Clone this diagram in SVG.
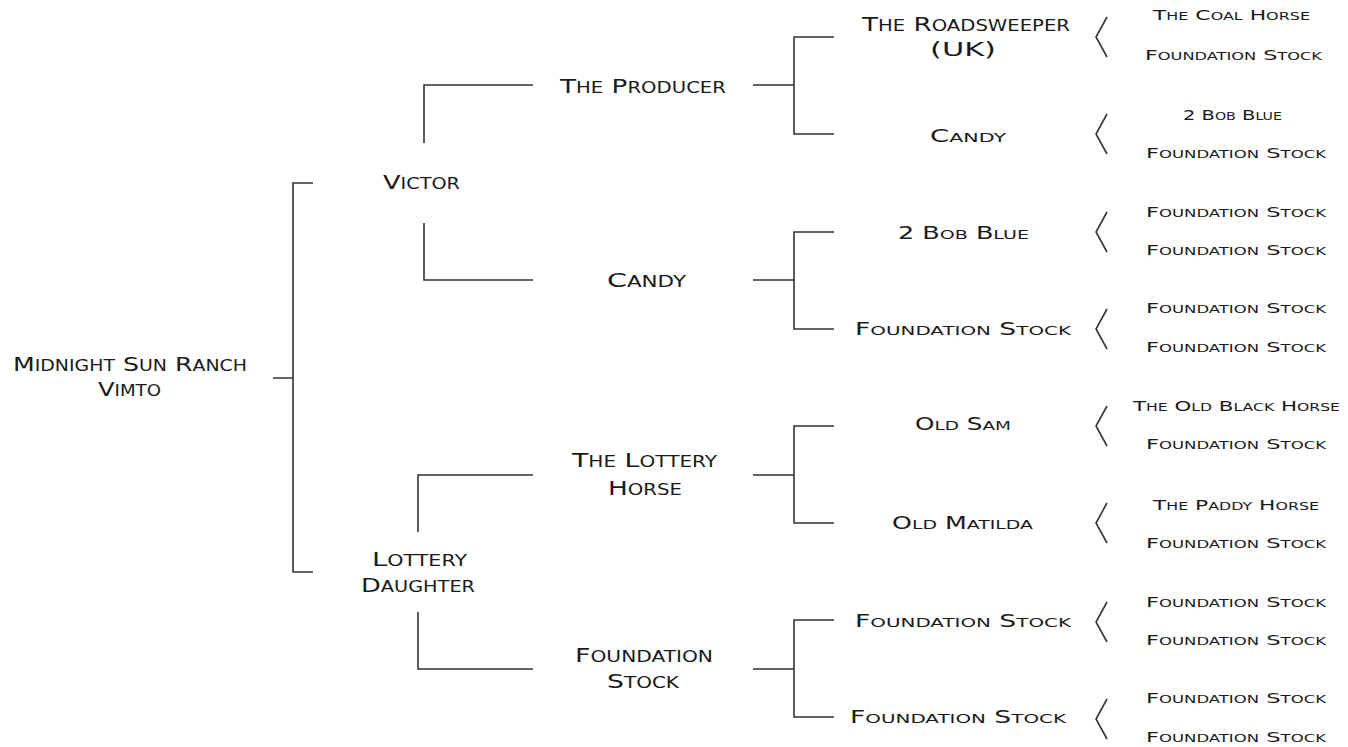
<svg xmlns="http://www.w3.org/2000/svg" width="1348" height="747" viewBox="0 0 1348 747">
<style>
text{font-family:"DejaVu Sans","Liberation Sans",sans-serif;font-variant:small-caps;fill:#1a1a1a;text-anchor:middle}
.s{font-size:1.06em}
.a{font-size:20px}
.c{font-size:17.4px}
.b{font-size:13.7px}
.ln{fill:none;stroke:#333;stroke-width:1.6}
</style>
<rect width="1348" height="747" fill="#fff"/>
<g id="connectors" class="ln">
<path d="M273 378H293M313 183H293V572H313"/>
<path d="M424 143V85H533M424 223V280H533"/>
<path d="M418 532V475H533M418 612V669H533"/>
<path d="M753 85H794M834 37H794V134H834"/>
<path d="M753 280H794M834 232H794V329H834"/>
<path d="M753 475H794M834 426H794V523H834"/>
<path d="M753 669H794M834 620H794V717H834"/>
<path d="M1107 17L1096 37L1107 57"/>
<path d="M1107 114L1096 134L1107 154"/>
<path d="M1107 212L1096 232L1107 252"/>
<path d="M1107 309L1096 329L1107 349"/>
<path d="M1107 406L1096 426L1107 446"/>
<path d="M1107 503L1096 523L1107 543"/>
<path d="M1107 602L1096 622L1107 642"/>
<path d="M1107 699L1096 719L1107 739"/>
</g>
<g id="n-vimto" class="a">
<text x="130" y="370.5" textLength="234" lengthAdjust="spacingAndGlyphs">M<tspan class="s">idnight</tspan> S<tspan class="s">un</tspan> R<tspan class="s">anch</tspan></text>
<text x="129.5" y="396" textLength="63" lengthAdjust="spacingAndGlyphs">V<tspan class="s">imto</tspan></text>
</g>
<g id="n-victor" class="a"><text x="421.5" y="189" textLength="77" lengthAdjust="spacingAndGlyphs">V<tspan class="s">ictor</tspan></text></g>
<g id="n-lottery-daughter" class="a">
<text x="419.5" y="565.5" textLength="95" lengthAdjust="spacingAndGlyphs">L<tspan class="s">ottery</tspan></text>
<text x="418" y="592" textLength="114" lengthAdjust="spacingAndGlyphs">D<tspan class="s">aughter</tspan></text>
</g>
<g id="n-producer" class="a"><text x="643" y="92.5" textLength="166" lengthAdjust="spacingAndGlyphs">T<tspan class="s">he</tspan> P<tspan class="s">roducer</tspan></text></g>
<g id="n-candy2" class="a"><text x="646.5" y="287" textLength="79" lengthAdjust="spacingAndGlyphs">C<tspan class="s">andy</tspan></text></g>
<g id="n-lottery-horse" class="a">
<text x="644.5" y="467" textLength="145" lengthAdjust="spacingAndGlyphs">T<tspan class="s">he</tspan> L<tspan class="s">ottery</tspan></text>
<text x="645" y="495" textLength="74" lengthAdjust="spacingAndGlyphs">H<tspan class="s">orse</tspan></text>
</g>
<g id="n-fs2" class="a">
<text x="644" y="661.5" textLength="138" lengthAdjust="spacingAndGlyphs">F<tspan class="s">oundation</tspan></text>
<text x="643" y="688" textLength="72" lengthAdjust="spacingAndGlyphs">S<tspan class="s">tock</tspan></text>
</g>
<g id="n-roadsweeper">
<text class="a" x="966" y="31" textLength="208" lengthAdjust="spacingAndGlyphs">T<tspan class="s">he</tspan> R<tspan class="s">oadsweeper</tspan></text>
<text class="a" x="963" y="56" textLength="66" lengthAdjust="spacingAndGlyphs">(UK)</text>
</g>
<g id="n-candy3" class="c"><text x="968" y="142" textLength="76" lengthAdjust="spacingAndGlyphs">C<tspan class="s">andy</tspan></text></g>
<g id="n-2bob3" class="c"><text x="963.5" y="239" textLength="131" lengthAdjust="spacingAndGlyphs">2 B<tspan class="s">ob</tspan> B<tspan class="s">lue</tspan></text></g>
<g id="n-fs3a" class="c"><text x="963" y="335" textLength="216" lengthAdjust="spacingAndGlyphs">F<tspan class="s">oundation</tspan> S<tspan class="s">tock</tspan></text></g>
<g id="n-oldsam" class="c"><text x="963" y="430" textLength="96" lengthAdjust="spacingAndGlyphs">O<tspan class="s">ld</tspan> S<tspan class="s">am</tspan></text></g>
<g id="n-oldmatilda" class="c"><text x="962.5" y="529" textLength="141" lengthAdjust="spacingAndGlyphs">O<tspan class="s">ld</tspan> M<tspan class="s">atilda</tspan></text></g>
<g id="n-fs3b" class="c"><text x="963" y="627" textLength="216" lengthAdjust="spacingAndGlyphs">F<tspan class="s">oundation</tspan> S<tspan class="s">tock</tspan></text></g>
<g id="n-fs3c" class="c"><text x="958" y="723" textLength="216" lengthAdjust="spacingAndGlyphs">F<tspan class="s">oundation</tspan> S<tspan class="s">tock</tspan></text></g>
<g id="gen4" class="b">
<text x="1231.5" y="20" textLength="157" lengthAdjust="spacingAndGlyphs">T<tspan class="s">he</tspan> C<tspan class="s">oal</tspan> H<tspan class="s">orse</tspan></text>
<text x="1233.5" y="60" textLength="177" lengthAdjust="spacingAndGlyphs">F<tspan class="s">oundation</tspan> S<tspan class="s">tock</tspan></text>
<text x="1232.5" y="120" textLength="99" lengthAdjust="spacingAndGlyphs">2 B<tspan class="s">ob</tspan> B<tspan class="s">lue</tspan></text>
<text x="1236" y="158" textLength="180" lengthAdjust="spacingAndGlyphs">F<tspan class="s">oundation</tspan> S<tspan class="s">tock</tspan></text>
<text x="1236" y="216.5" textLength="180" lengthAdjust="spacingAndGlyphs">F<tspan class="s">oundation</tspan> S<tspan class="s">tock</tspan></text>
<text x="1236" y="255" textLength="180" lengthAdjust="spacingAndGlyphs">F<tspan class="s">oundation</tspan> S<tspan class="s">tock</tspan></text>
<text x="1236" y="313" textLength="180" lengthAdjust="spacingAndGlyphs">F<tspan class="s">oundation</tspan> S<tspan class="s">tock</tspan></text>
<text x="1236" y="351.5" textLength="180" lengthAdjust="spacingAndGlyphs">F<tspan class="s">oundation</tspan> S<tspan class="s">tock</tspan></text>
<text x="1236.5" y="410.5" textLength="207" lengthAdjust="spacingAndGlyphs">T<tspan class="s">he</tspan> O<tspan class="s">ld</tspan> B<tspan class="s">lack</tspan> H<tspan class="s">orse</tspan></text>
<text x="1236" y="448.5" textLength="180" lengthAdjust="spacingAndGlyphs">F<tspan class="s">oundation</tspan> S<tspan class="s">tock</tspan></text>
<text x="1236" y="509.5" textLength="166" lengthAdjust="spacingAndGlyphs">T<tspan class="s">he</tspan> P<tspan class="s">addy</tspan> H<tspan class="s">orse</tspan></text>
<text x="1236" y="547.5" textLength="180" lengthAdjust="spacingAndGlyphs">F<tspan class="s">oundation</tspan> S<tspan class="s">tock</tspan></text>
<text x="1236" y="606.5" textLength="180" lengthAdjust="spacingAndGlyphs">F<tspan class="s">oundation</tspan> S<tspan class="s">tock</tspan></text>
<text x="1236" y="645" textLength="180" lengthAdjust="spacingAndGlyphs">F<tspan class="s">oundation</tspan> S<tspan class="s">tock</tspan></text>
<text x="1236" y="703" textLength="180" lengthAdjust="spacingAndGlyphs">F<tspan class="s">oundation</tspan> S<tspan class="s">tock</tspan></text>
<text x="1236" y="741.5" textLength="180" lengthAdjust="spacingAndGlyphs">F<tspan class="s">oundation</tspan> S<tspan class="s">tock</tspan></text>
</g>
</svg>
